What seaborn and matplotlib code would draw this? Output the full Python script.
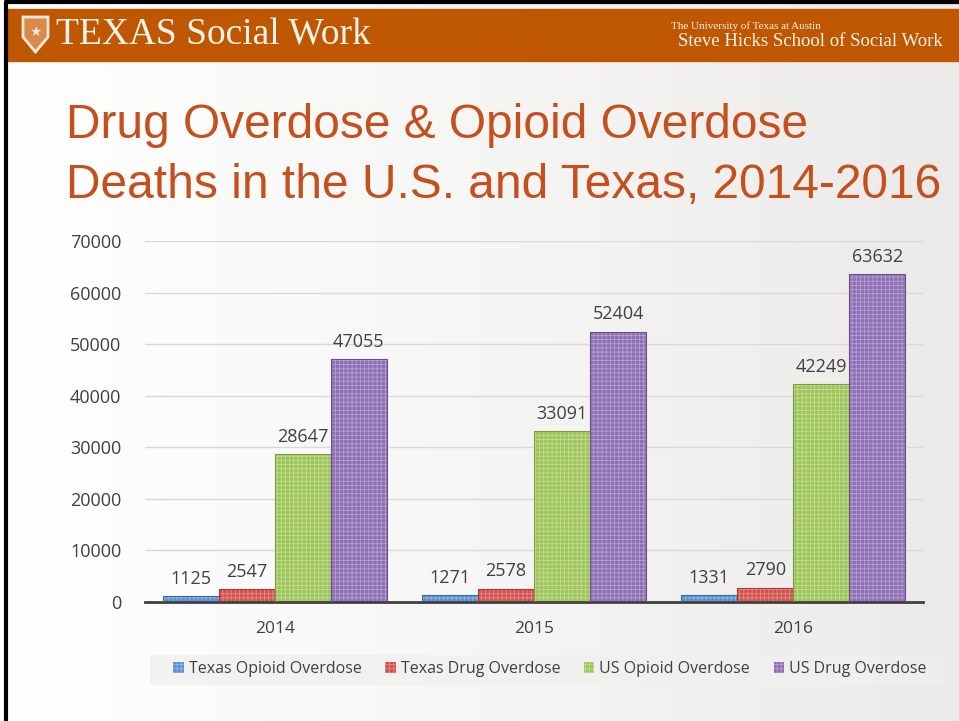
import numpy as np
import pandas as pd
import seaborn as sns
from matplotlib import pyplot as plt
from matplotlib.patches import Rectangle, Polygon

years = ["2014", "2015", "2016"]
series = ["Texas Opioid Overdose", "Texas Drug Overdose", "US Opioid Overdose", "US Drug Overdose"]
texas_opioid = [1125, 1271, 1331]
texas_drug = [2547, 2578, 2790]
us_opioid = [28647, 33091, 42249]
us_drug = [47055, 52404, 63632]
y_ticks = [0, 10000, 20000, 30000, 40000, 50000, 60000, 70000]

fills = ["#5b8fd0", "#d0524f", "#9ec45c", "#8e6fb4"]
hatch_cols = ["#8fb4e4", "#e58a86", "#c1dc8f", "#b39fd1"]
edges = ["#3b6aa6", "#a83b38", "#7b9c41", "#6a4f8e"]

rows = []
for s, vals in zip(series, [texas_opioid, texas_drug, us_opioid, us_drug]):
    for y, v in zip(years, vals):
        rows.append({"year": y, "series": s, "deaths": v})
df = pd.DataFrame(rows)

sns.set_style("white")
plt.rcParams["font.family"] = ["Open Sans", "DejaVu Sans"]
plt.rcParams["hatch.linewidth"] = 0.6

fig = plt.figure(figsize=(9.59, 7.21), dpi=100)

# slide background with light gradient
bg = fig.add_axes([0, 0, 1, 1])
grad = np.linspace(0, 1, 256).reshape(1, -1)
bg.imshow(grad, aspect="auto", cmap=sns.blend_palette(["#ffffff", "#f6f6f5", "#ebeae8"], as_cmap=True),
          extent=[0, 1, 0, 1])
bg.set_xlim(0, 1)
bg.set_ylim(0, 1)
bg.axis("off")

# header bar and slide border (top + left only)
bg.add_patch(Rectangle((7 / 959, 1 - 61 / 721), 1, 52 / 721, color="#bf5700", zorder=2))
bg.plot([6 / 959, 1], [1 - 2 / 721, 1 - 2 / 721], color="black", lw=3, zorder=3)
bg.plot([6 / 959, 6 / 959], [0, 1 - 2 / 721], color="black", lw=3, zorder=3)
shield = Polygon([(23 / 959, 1 - 17 / 721), (48 / 959, 1 - 17 / 721), (48 / 959, 1 - 37 / 721),
                  (35.5 / 959, 1 - 52 / 721), (23 / 959, 1 - 37 / 721)], closed=True,
                 facecolor="#d98a4a", edgecolor="#f5e9dc", lw=2, zorder=4)
bg.add_patch(shield)
bg.text(35.5 / 959, 1 - 32 / 721, "★", color="#f5e9dc", fontsize=10, family="DejaVu Sans",
        ha="center", va="center", zorder=5)
bg.text(56 / 959, 1 - 35 / 721, "TEXAS Social Work", color="#fbf3ea", fontsize=27,
        family="Liberation Serif", va="center", ha="left", zorder=4)
bg.text(671 / 959, 1 - 26 / 721, "The University of Texas at Austin", color="#fbf3ea", fontsize=8,
        family="Liberation Serif", va="center", ha="left", zorder=4)
bg.text(943 / 959, 1 - 42 / 721, "Steve Hicks School of Social Work", color="#fbf3ea", fontsize=13.5,
        family="Liberation Serif", va="center", ha="right", zorder=4)

# title
bg.text(66 / 959, 1 - 125 / 721, "Drug Overdose & Opioid Overdose", color="#c5501e", fontsize=34.5,
        family="Liberation Sans", va="center", ha="left", zorder=4)
bg.text(66 / 959, 1 - 185 / 721, "Deaths in the U.S. and Texas, 2014-2016", color="#c5501e", fontsize=34.5,
        family="Liberation Sans", va="center", ha="left", zorder=4)

# legend box
bg.add_patch(Rectangle((150 / 959, 1 - 685 / 721), 793 / 959, 30 / 721, facecolor="#f0f0ef",
                       edgecolor="none", alpha=0.8, zorder=2))

ax = fig.add_axes([145 / 959, 1 - 602 / 721, 778 / 959, 361 / 721])
ax.patch.set_alpha(0)
sns.barplot(data=df, x="year", y="deaths", hue="series", hue_order=series, palette=hatch_cols,
            width=0.865, gap=0, saturation=1, ax=ax, legend=False)

for i, cont in enumerate(ax.containers):
    for p in cont:
        p.set_facecolor(fills[i])
        p.set_edgecolor(hatch_cols[i])
        p.set_hatch("++++")
        p.set_linewidth(0)
        ax.add_patch(Rectangle((p.get_x(), p.get_y()), p.get_width(), p.get_height(),
                               fill=False, edgecolor=edges[i], lw=0.8, zorder=3))
    ax.bar_label(cont, padding=6, fontsize=13, color="#404040")

ax.set_ylim(0, 70000)
ax.set_xlim(-0.5, 2.5)
ax.set_yticks(y_ticks)
ax.set_yticklabels([str(t) for t in y_ticks], fontsize=13, color="#404040")
ax.tick_params(axis="x", labelsize=12.5, colors="#404040", length=0, pad=14)
ax.tick_params(axis="y", length=0, pad=17)
ax.yaxis.grid(True, color="#d9d9d9", lw=1)
ax.set_axisbelow(True)
for side in ["top", "right", "left"]:
    ax.spines[side].set_visible(False)
ax.spines["bottom"].set_color("#404040")
ax.spines["bottom"].set_linewidth(2)
ax.set_xlabel("")
ax.set_ylabel("")

handles = [Rectangle((0, 0), 1, 1, facecolor=fills[i], edgecolor=hatch_cols[i], hatch="++++", lw=0)
           for i in range(4)]
leg = fig.legend(handles, series, loc="center", ncol=4,
                 bbox_to_anchor=(550 / 959, 1 - 669 / 721),
                 fontsize=11.5, frameon=False, handlelength=0.65, handleheight=0.65, handletextpad=0.3,
                 columnspacing=1.5, borderaxespad=0)
for t in leg.get_texts():
    t.set_color("#404040")

plt.savefig("out.png", dpi=100)
